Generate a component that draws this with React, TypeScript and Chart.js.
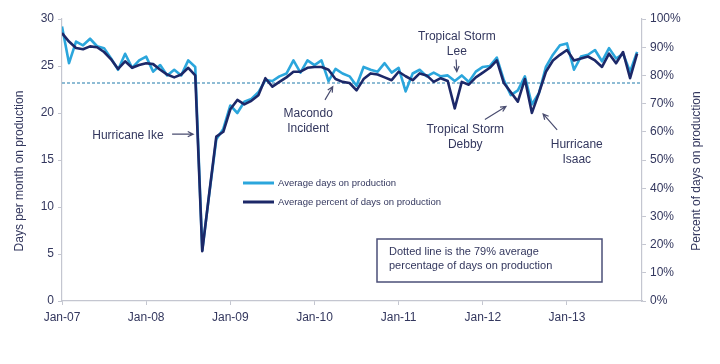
import React, { useEffect, useRef } from "react";
import { Chart, registerables } from "chart.js";

Chart.register(...registerables);

// ---- Data ----
const tickLabels = ["Jan-07", "Jan-08", "Jan-09", "Jan-10", "Jan-11", "Jan-12", "Jan-13"];

// Monthly, Jan-07 .. Nov-13 (days per month on production)
const daysOnProduction = [
  29.2, 25.3, 27.6, 27.2, 27.9, 27.1, 26.9, 25.8, 24.6, 26.3,
  24.8, 25.6, 26.0, 24.4, 25.1, 24.0, 24.6, 24.0, 25.6, 24.9,
  5.4, 11.4, 17.2, 18.3, 20.8, 20.0, 21.2, 21.5, 22.2, 23.5,
  23.4, 23.9, 24.2, 25.6, 24.3, 25.6, 25.1, 25.6, 23.4, 24.7,
  24.2, 23.9, 22.9, 24.9, 24.6, 24.4, 25.3, 24.3, 24.8, 22.3,
  24.2, 24.6, 23.9, 24.3, 23.9, 24.0, 23.4, 24.0, 23.3, 24.4,
  24.9, 25.0, 25.9, 23.5, 21.9, 22.4, 23.9, 20.9, 22.1, 24.9,
  26.2, 27.2, 27.4, 24.6, 26.0, 26.2, 26.7, 25.5, 26.9, 25.8,
  26.3, 24.4, 26.5,
];

// Monthly, Jan-07 .. Nov-13 (percent of days on production)
const percentOnProduction = [
  95.0, 92.0, 89.7, 89.3, 90.3, 90.0, 88.3, 85.7, 82.3, 85.0,
  82.7, 83.7, 84.3, 84.0, 82.0, 80.3, 79.3, 80.3, 82.7, 80.0,
  17.7, 38.3, 58.3, 60.0, 68.0, 71.3, 69.7, 71.0, 73.0, 79.0,
  76.0, 77.7, 79.3, 81.3, 81.3, 82.7, 83.0, 83.0, 82.0, 78.7,
  77.7, 77.3, 74.7, 78.7, 80.7, 80.3, 79.3, 78.3, 81.3, 79.7,
  78.3, 80.7, 80.0, 77.7, 79.0, 78.0, 68.3, 77.7, 76.7, 79.3,
  81.0, 82.7, 85.3, 77.3, 74.0, 70.7, 78.7, 66.7, 73.7, 81.3,
  85.3, 87.3, 89.0, 85.3, 86.0, 86.7, 85.3, 83.0, 87.7, 84.3,
  88.3, 79.0, 87.7,
];

const averageDays = 23.2; // dotted average line (left axis units)

const seriesLabels = ["Average days on production", "Average percent of days on production"];
const axisTitles = ["Days per month on production", "Percent of days on production"];
const boxText = ["Dotted line is the 79% average", "percentage of days on production"];

// annotations in data coordinates: [monthIndex, days]
const annotations = [
  { lines: ["Hurricane Ike"], at: [9.4, 17.6], arrow: [[15.7, 17.75], [18.7, 17.75]] },
  { lines: ["Macondo", "Incident"], at: [35.1, 19.9], arrow: [[37.5, 21.4], [38.6, 22.8]] },
  { lines: ["Tropical Storm", "Lee"], at: [56.3, 28.1], arrow: [[56.2, 25.7], [56.3, 24.4]] },
  { lines: ["Tropical Storm", "Debby"], at: [57.5, 18.2], arrow: [[60.3, 19.3], [63.3, 20.7]] },
  { lines: ["Hurricane", "Isaac"], at: [73.4, 16.6], arrow: [[70.6, 18.2], [68.6, 19.9]] },
];

const LIGHT = "#2ba6dc";
const NAVY = "#1c2868";
const TEXT = "#33375e";
const AXIS = "#c4c6d0";
const FONT = "'Liberation Sans', Arial, sans-serif";

function drawArrow(ctx: CanvasRenderingContext2D, x1: number, y1: number, x2: number, y2: number) {
  const ang = Math.atan2(y2 - y1, x2 - x1);
  const h = 6;
  ctx.beginPath();
  ctx.moveTo(x1, y1);
  ctx.lineTo(x2, y2);
  ctx.moveTo(x2 - h * Math.cos(ang - 0.45), y2 - h * Math.sin(ang - 0.45));
  ctx.lineTo(x2, y2);
  ctx.lineTo(x2 - h * Math.cos(ang + 0.45), y2 - h * Math.sin(ang + 0.45));
  ctx.stroke();
}

const decorPlugin = {
  id: "decor",
  beforeDatasetsDraw(chart: any) {
    const { ctx, chartArea, scales } = chart;
    const y = scales.y.getPixelForValue(averageDays);
    ctx.save();
    ctx.strokeStyle = "#6aa6c8";
    ctx.lineWidth = 1.5;
    ctx.setLineDash([3, 2]);
    ctx.beginPath();
    ctx.moveTo(chartArea.left, y);
    ctx.lineTo(chartArea.right, y);
    ctx.stroke();
    ctx.restore();
  },
  afterDatasetsDraw(chart: any) {
    const { ctx, chartArea, scales } = chart;
    const sx = (v: number) => scales.x.getPixelForValue(v);
    const sy = (v: number) => scales.y.getPixelForValue(v);
    ctx.save();

    // annotations
    ctx.fillStyle = TEXT;
    ctx.strokeStyle = "#4a4d70";
    ctx.lineWidth = 1.2;
    ctx.font = `12px ${FONT}`;
    ctx.textAlign = "center";
    ctx.textBaseline = "middle";
    annotations.forEach((a) => {
      const cx = sx(a.at[0]);
      const cy = sy(a.at[1]);
      a.lines.forEach((t, k) => ctx.fillText(t, cx, cy + k * 14.5));
      drawArrow(ctx, sx(a.arrow[0][0]), sy(a.arrow[0][1]), sx(a.arrow[1][0]), sy(a.arrow[1][1]));
    });

    // legend
    const lx = chartArea.left + 181;
    const ly = chartArea.top + 164;
    [LIGHT, NAVY].forEach((c, k) => {
      ctx.strokeStyle = c;
      ctx.lineWidth = 3;
      ctx.beginPath();
      ctx.moveTo(lx, ly + k * 19);
      ctx.lineTo(lx + 31, ly + k * 19);
      ctx.stroke();
      ctx.fillStyle = TEXT;
      ctx.font = `9.5px ${FONT}`;
      ctx.textAlign = "left";
      ctx.fillText(seriesLabels[k], lx + 35, ly + k * 19);
    });

    // text box
    const bx = chartArea.left + 315;
    const by = chartArea.top + 220;
    ctx.strokeStyle = "#4b4f78";
    ctx.lineWidth = 1.5;
    ctx.strokeRect(bx, by, 225, 43);
    ctx.fillStyle = TEXT;
    ctx.font = `11px ${FONT}`;
    ctx.textAlign = "left";
    ctx.fillText(boxText[0], bx + 12, by + 13);
    ctx.fillText(boxText[1], bx + 12, by + 27);

    // axis titles (both read bottom-to-top)
    const midY = (chartArea.top + chartArea.bottom) / 2 + 11;
    ctx.font = `12px ${FONT}`;
    ctx.textAlign = "center";
    [20, 697].forEach((x, k) => {
      ctx.save();
      ctx.translate(x, midY);
      ctx.rotate(-Math.PI / 2);
      ctx.fillText(axisTitles[k], 0, 0);
      ctx.restore();
    });
    ctx.restore();
  },
};

export default function App() {
  const ref = useRef<HTMLCanvasElement>(null);
  useEffect(() => {
    if (!ref.current) return;
    const tickFont = { family: FONT, size: 12 };
    const chart = new Chart(ref.current, {
      type: "line",
      data: {
        datasets: [
          {
            label: seriesLabels[1],
            data: percentOnProduction.map((v, i) => ({ x: i, y: v })),
            yAxisID: "y1",
            borderColor: NAVY,
            borderWidth: 2.6,
            pointRadius: 0,
            tension: 0,
            order: 0,
            borderJoinStyle: "round",
          },
          {
            label: seriesLabels[0],
            data: daysOnProduction.map((v, i) => ({ x: i, y: v })),
            yAxisID: "y",
            borderColor: LIGHT,
            borderWidth: 2.6,
            pointRadius: 0,
            tension: 0,
            order: 1,
            borderJoinStyle: "round",
          },
        ],
      },
      options: {
        animation: false,
        responsive: false,
        devicePixelRatio: 1,
        layout: { padding: { top: 19, left: 0, right: 0, bottom: 0 } },
        plugins: { legend: { display: false }, tooltip: { enabled: false } },
        scales: {
          x: {
            type: "linear",
            min: 0,
            max: 82.7,
            afterBuildTicks: (axis: any) => {
              axis.ticks = tickLabels.map((_, k) => ({ value: k * 12 }));
            },
            afterFit: (s: any) => {
              s.height = 63;
            },
            ticks: {
              autoSkip: false,
              maxRotation: 0,
              padding: 5,
              color: TEXT,
              font: tickFont,
              callback: (v: any) => tickLabels[Math.round(Number(v) / 12)] ?? "",
            },
            grid: { display: true, drawOnChartArea: false, tickLength: 4, color: AXIS },
            border: { color: AXIS, width: 1.2 },
          },
          y: {
            position: "left",
            min: 0,
            max: 30,
            afterFit: (s: any) => {
              s.width = 62;
            },
            ticks: { stepSize: 5, padding: 4, color: TEXT, font: tickFont },
            grid: { display: true, drawOnChartArea: false, tickLength: 4, color: AXIS },
            border: { color: AXIS, width: 1.2 },
          },
          y1: {
            position: "right",
            min: 0,
            max: 100,
            afterFit: (s: any) => {
              s.width = 78;
            },
            ticks: {
              stepSize: 10,
              padding: 4,
              color: TEXT,
              font: tickFont,
              callback: (v: any) => `${v}%`,
            },
            grid: { display: true, drawOnChartArea: false, tickLength: 4, color: AXIS },
            border: { color: AXIS, width: 1.2 },
          },
        },
      } as any,
      plugins: [decorPlugin],
    });
    return () => chart.destroy();
  }, []);

  return (
    <div style={{ position: "fixed", left: 0, top: 0, width: 720, height: 364, background: "#fff" }}>
      <canvas ref={ref} width={720} height={364} />
    </div>
  );
}
